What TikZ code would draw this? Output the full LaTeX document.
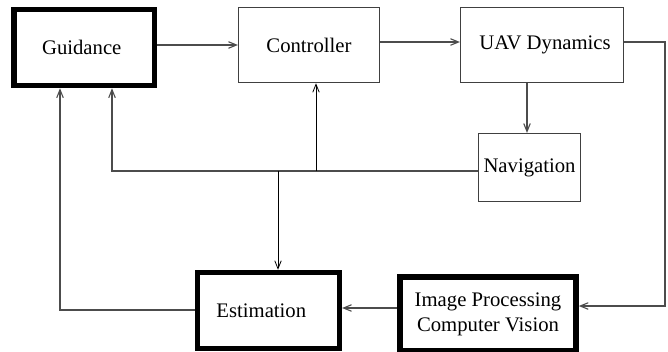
\documentclass[tikz,border=0pt]{standalone}
\usepackage{fontspec}
\setmainfont{Liberation Serif}
\usetikzlibrary{arrows.meta}
\begin{document}
\begin{tikzpicture}[x=1pt,y=-1pt,
  thinbox/.style={draw=black!75,line width=1.1pt,inner sep=0pt,align=center},
  thickbox/.style={draw=black,line width=5.5pt,inner sep=0pt,align=center},
  conn/.style={draw=black!70,line width=1.1pt,-{Straight Barb[length=8pt,width=6.5pt]}},
  blackconn/.style={conn,draw=black,line width=0.8pt},
  every node/.style={font=\fontsize{20.7pt}{25pt}\selectfont}]
\useasboundingbox (0,0) rectangle (668,351);
\node[thickbox,minimum width=140.5pt,minimum height=76pt] (guid) at (84.25,47.5) {Guidance\hspace{5pt}};
\node[thinbox,minimum width=141pt,minimum height=75pt] (ctrl) at (309,45.2) {Controller};
\node[thinbox,minimum width=163pt,minimum height=75pt] (uav) at (542,45.2) {\hspace{6pt}UAV Dynamics};
\node[thinbox,minimum width=102pt,minimum height=68pt] (nav) at (529.5,167.5) {Navigation};
\node[thickbox,minimum width=142pt,minimum height=76pt] (est) at (268.3,310.5) {Estimation\hspace{14pt}};
\node[thickbox,minimum width=176pt,minimum height=74pt] (ip) at (488,314) {Image Processing\\Computer Vision};
\coordinate (r1) at (665,42);
\coordinate (r2) at (665,306);
\coordinate (n1) at (112,171);
\coordinate (jc) at (316,171);
\coordinate (je) at (278,171);
\coordinate (e1) at (60,310);
\draw[conn] (guid.east |- 0,45) -- (ctrl.west |- 0,45);
\draw[conn] (ctrl.east |- 0,42) -- (uav.west |- 0,42);
\draw[conn] (uav.east |- r1) -- (r1) -- (r2) -- (ip.east |- r2);
\draw[conn] (527,0 |- uav.south) -- (527,0 |- nav.north);
\draw[conn] (nav.west |- n1) -- (n1) -- (n1 |- guid.south);
\draw[blackconn] (jc) -- (jc |- ctrl.south);
\draw[blackconn] (je) -- (je |- est.north);
\draw[conn] (est.west |- e1) -- (e1) -- (e1 |- guid.south);
\draw[conn] (ip.west |- 0,308) -- (est.east |- 0,308);
\end{tikzpicture}
\end{document}
